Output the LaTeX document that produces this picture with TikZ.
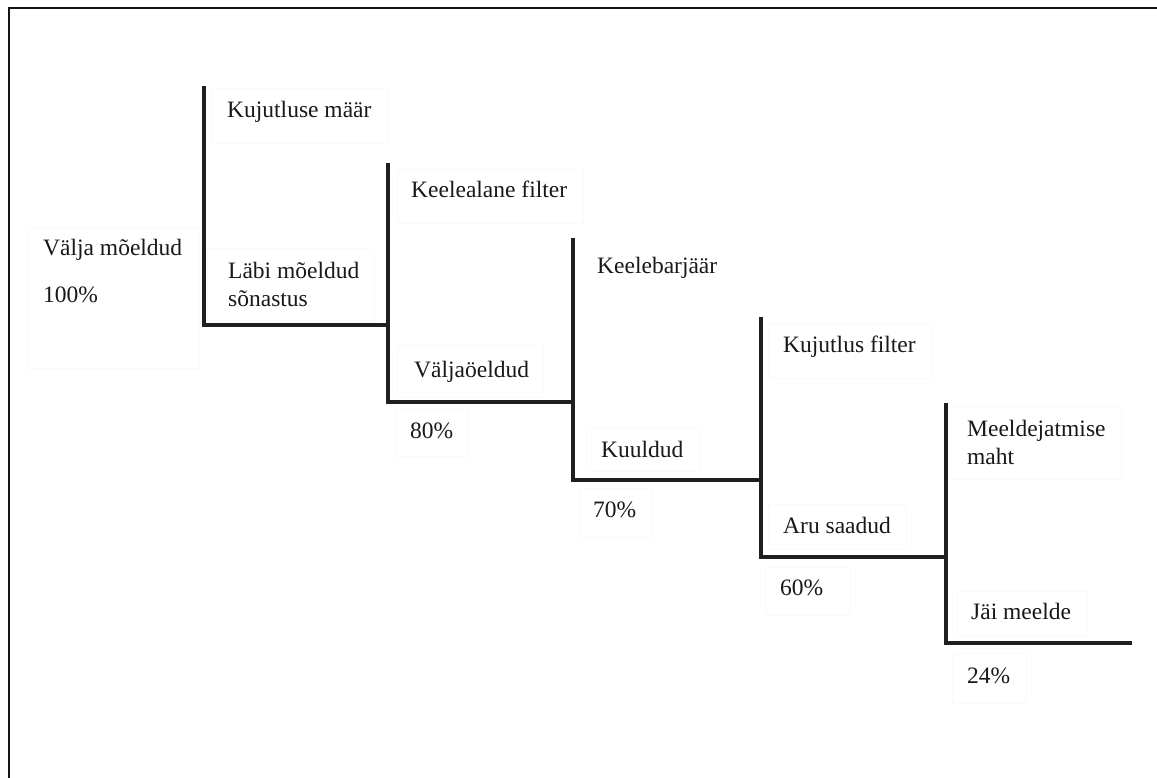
\documentclass[tikz,border=0pt]{standalone}
\usepackage{fontspec}
\setmainfont{Liberation Serif}
\begin{document}
\begin{tikzpicture}[x=1pt,y=-1pt,
  lbl/.style={anchor=base west,inner sep=0pt,text=black!90,font=\fontsize{23.5}{28}\selectfont,align=left},
  stepline/.style={line width=3.2pt,draw=black!88,line join=miter},
  frame/.style={line width=2.4pt,draw=black!92},
  faint/.style={draw=black!2,line width=0.6pt}]
\useasboundingbox (0,0) rectangle (1157,778);
\fill[white] (0,0) rectangle (1157,778);
% outer frame (top and left)
\coordinate (fl) at (9,778);
\coordinate (fc) at (9,8);
\coordinate (fr) at (1157,8);
\draw[frame] (fl) -- (fc) -- (fr);
% faint text boxes
\draw[faint] (28,227) rectangle (199,368);
\draw[faint] (212,88) rectangle (387,143);
\draw[faint] (207,248) rectangle (374,320);
\draw[faint] (397,169) rectangle (583,223);
\draw[faint] (397,345) rectangle (543,397);
\draw[faint] (395,409) rectangle (468,456);
\draw[faint] (586,427) rectangle (699,471);
\draw[faint] (579,488) rectangle (652,537);
\draw[faint] (768,323) rectangle (932,378);
\draw[faint] (768,504) rectangle (906,549);
\draw[faint] (765,567) rectangle (850,615);
\draw[faint] (950,406) rectangle (1121,479);
\draw[faint] (957,591) rectangle (1087,636);
\draw[faint] (952,653) rectangle (1026,703);
% step corners
\coordinate (t1) at (204,86);  \coordinate (c1) at (204,325);
\coordinate (t2) at (388,163); \coordinate (c2) at (388,402);
\coordinate (t3) at (573,238); \coordinate (c3) at (573,480);
\coordinate (t4) at (761,317); \coordinate (c4) at (761,557);
\coordinate (t5) at (946,403); \coordinate (c5) at (946,643);
\coordinate (e5) at (1132,643);
\draw[stepline] (t1) -- (c1) -- (c1 -| t2);
\draw[stepline] (t2) -- (c2) -- (c2 -| t3);
\draw[stepline] (t3) -- (c3) -- (c3 -| t4);
\draw[stepline] (t4) -- (c4) -- (c4 -| t5);
\draw[stepline] (t5) -- (c5) -- (e5);
% labels
\node[lbl] (valja) at (43,256) {Välja mõeldud};
\node[lbl] (p100) at (43,302) {100\%};
\node[lbl] (kujm) at (227,118) {Kujutluse määr};
\node[lbl] (labi) at (228,306) {Läbi mõeldud\\sõnastus};
\node[lbl] (keelf) at (411,198) {Keelealane filter};
\node[lbl] (valjao) at (414,377) {Väljaöeldud};
\node[lbl] (p80) at (410,438) {80\%};
\node[lbl] (keelb) at (597,273) {Keelebarjäär};
\node[lbl] (kuul) at (601,457) {Kuuldud};
\node[lbl] (p70) at (593,517) {70\%};
\node[lbl] (kujf) at (783,352) {Kujutlus filter};
\node[lbl] (aru) at (783,533) {Aru saadud};
\node[lbl] (p60) at (780,595) {60\%};
\node[lbl] (meel) at (967,464) {Meeldejatmise\\maht};
\node[lbl] (jai) at (971,619) {Jäi meelde};
\node[lbl] (p24) at (967,683) {24\%};
\end{tikzpicture}
\end{document}
